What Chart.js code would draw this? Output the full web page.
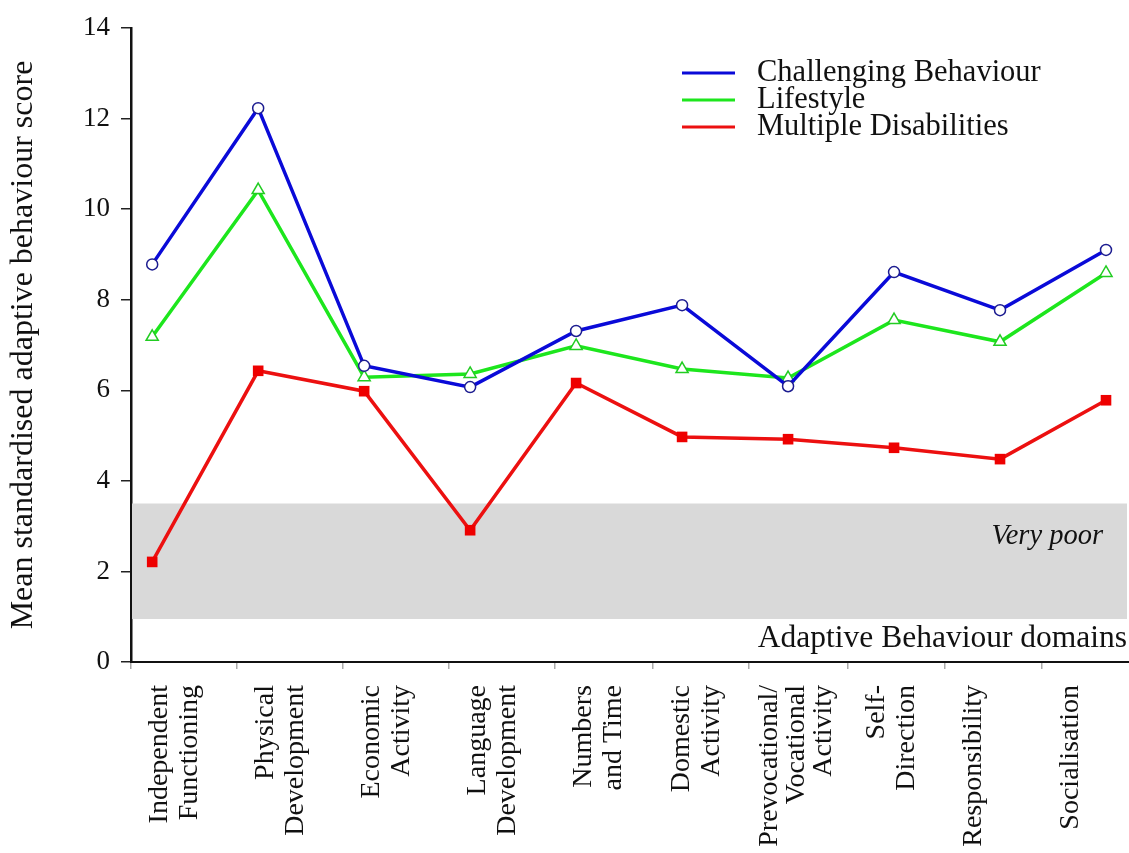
<!DOCTYPE html>
<html>
<head>
<meta charset="utf-8">
<script src="https://cdn.jsdelivr.net/npm/chart.js@4"></script>
<style>
  html, body { margin: 0; padding: 0; background: #fff; }
  #wrap { width: 1129px; height: 853px; position: relative; }
</style>
</head>
<body>
<div id="wrap"><canvas id="abChart"></canvas></div>
<script>
// Adaptive behaviour domain scores by group
const categories = [
    ['Independent', 'Functioning'],
    ['Physical', 'Development'],
    ['Economic', 'Activity'],
    ['Language', 'Development'],
    ['Numbers', 'and Time'],
    ['Domestic', 'Activity'],
    ['Prevocational/', 'Vocational', 'Activity'],
    ['Self-', 'Direction'],
    ['Responsibility'],
    ['Socialisation']
];
const challenging = [8.78, 12.23, 6.54, 6.07, 7.31, 7.88, 6.09, 8.61, 7.77, 9.10];
const lifestyle = [7.18, 10.42, 6.29, 6.36, 6.98, 6.47, 6.27, 7.55, 7.07, 8.59];
const multiple = [2.21, 6.43, 5.98, 2.91, 6.16, 4.97, 4.92, 4.73, 4.48, 5.78];
const seriesNames = ['Challenging Behaviour', 'Lifestyle', 'Multiple Disabilities'];
const yTicks = [0, 2, 4, 6, 8, 10, 12, 14];
// small marks on the x axis (labels hang off these)
const xTickMarks = [-0.2, 0.8, 1.8, 2.8, 3.8, 4.72, 5.63, 6.56, 7.48, 8.39];
const veryPoorBand = [0.95, 3.5];

const SERIF = "'Liberation Serif', 'DejaVu Serif', serif";
const toPoints = arr => arr.map((v, i) => ({ x: i, y: v }));

// grey band, its notes, custom legend and rotated domain labels
const decor = {
    id: 'decor',
    beforeDatasetsDraw(chart) {
        const { ctx, chartArea: a, scales: { y } } = chart;
        const top = y.getPixelForValue(veryPoorBand[1]);
        const bot = y.getPixelForValue(veryPoorBand[0]);
        ctx.save();
        ctx.fillStyle = '#d9d9d9';
        ctx.fillRect(a.left + 1, top, a.right - a.left - 3, bot - top);
        ctx.fillStyle = '#111';
        ctx.font = 'italic 28.5px ' + SERIF;
        ctx.textAlign = 'right';
        ctx.textBaseline = 'middle';
        ctx.fillText('Very poor', a.right - 26, top + 33);
        ctx.font = '31.5px ' + SERIF;
        ctx.fillText('Adaptive Behaviour domains', a.right - 2, bot + 20);
        ctx.restore();
    },
    afterDraw(chart) {
        const { ctx, scales: { x } } = chart;
        ctx.save();
        // legend
        ctx.font = '30.5px ' + SERIF;
        ctx.textAlign = 'left';
        ctx.textBaseline = 'middle';
        chart.data.datasets.forEach((ds, k) => {
            const ly = 73 + k * 27;
            ctx.strokeStyle = ds.borderColor;
            ctx.lineWidth = 3;
            ctx.beginPath();
            ctx.moveTo(682, ly);
            ctx.lineTo(735, ly);
            ctx.stroke();
            ctx.fillStyle = '#111';
            ctx.fillText(ds.label, 757, ly);
        });
        // domain labels, reading bottom to top
        ctx.font = '28px ' + SERIF;
        ctx.fillStyle = '#111';
        ctx.textAlign = 'right';
        ctx.textBaseline = 'middle';
        categories.forEach((lines, i) => {
            const px = x.getPixelForValue(xTickMarks[i]);
            const step = lines.length > 2 ? 27 : 30;
            const start = lines.length > 2 ? 21 : 29;
            lines.forEach((txt, j) => {
                ctx.save();
                ctx.translate(px + start + j * step, 685);
                ctx.rotate(-Math.PI / 2);
                ctx.fillText(txt, 0, 0);
                ctx.restore();
            });
        });
        ctx.restore();
    }
};

new Chart(document.getElementById('abChart'), {
    type: 'line',
    data: {
        datasets: [
            {
                label: seriesNames[0],
                data: toPoints(challenging),
                borderColor: '#0a0ad8',
                borderWidth: 3.5,
                pointStyle: 'circle',
                pointRadius: 5.5,
                pointBorderWidth: 1.5,
                pointBorderColor: '#1c1c90',
                pointBackgroundColor: '#fff',
                tension: 0
            },
            {
                label: seriesNames[1],
                data: toPoints(lifestyle),
                borderColor: '#1de61d',
                borderWidth: 3.5,
                pointStyle: 'triangle',
                pointRadius: 7,
                pointBorderWidth: 1.5,
                pointBorderColor: '#22cc22',
                pointBackgroundColor: '#fff',
                tension: 0
            },
            {
                label: seriesNames[2],
                data: toPoints(multiple),
                borderColor: '#ec1010',
                borderWidth: 3.5,
                pointStyle: 'rect',
                pointRadius: 7.5,
                pointBorderWidth: 0,
                pointBackgroundColor: '#ee0000',
                tension: 0
            }
        ]
    },
    options: {
        responsive: true,
        maintainAspectRatio: false,
        animation: false,
        layout: { autoPadding: false, padding: { top: 28, right: 0, left: 0, bottom: 0 } },
        scales: {
            x: {
                type: 'linear',
                min: -0.2,
                max: 9.217,
                afterBuildTicks: scale => {
                    scale.ticks = xTickMarks.map(v => ({ value: v }));
                },
                afterFit: scale => { scale.height = 191; },
                ticks: { display: false },
                grid: {
                    drawOnChartArea: false,
                    drawTicks: true,
                    tickLength: 7,
                    tickColor: '#aaa',
                    lineWidth: 1.5
                },
                border: { display: true, color: '#111', width: 2 }
            },
            y: {
                min: 0,
                max: 14,
                afterBuildTicks: scale => {
                    scale.ticks = yTicks.map(v => ({ value: v }));
                },
                afterFit: scale => { scale.width = 131; },
                ticks: {
                    padding: 11,
                    color: '#111',
                    font: { family: SERIF, size: 27 }
                },
                grid: {
                    drawOnChartArea: false,
                    drawTicks: true,
                    tickLength: 10,
                    tickColor: '#222',
                    lineWidth: 1.5
                },
                border: { display: true, color: '#111', width: 2.5 },
                title: {
                    display: true,
                    text: 'Mean standardised adaptive behaviour score',
                    color: '#111',
                    font: { family: SERIF, size: 32 },
                    padding: { top: 4, bottom: 4 }
                }
            }
        },
        plugins: {
            legend: { display: false },
            tooltip: { enabled: false }
        }
    },
    plugins: [decor]
});
</script>
</body>
</html>
